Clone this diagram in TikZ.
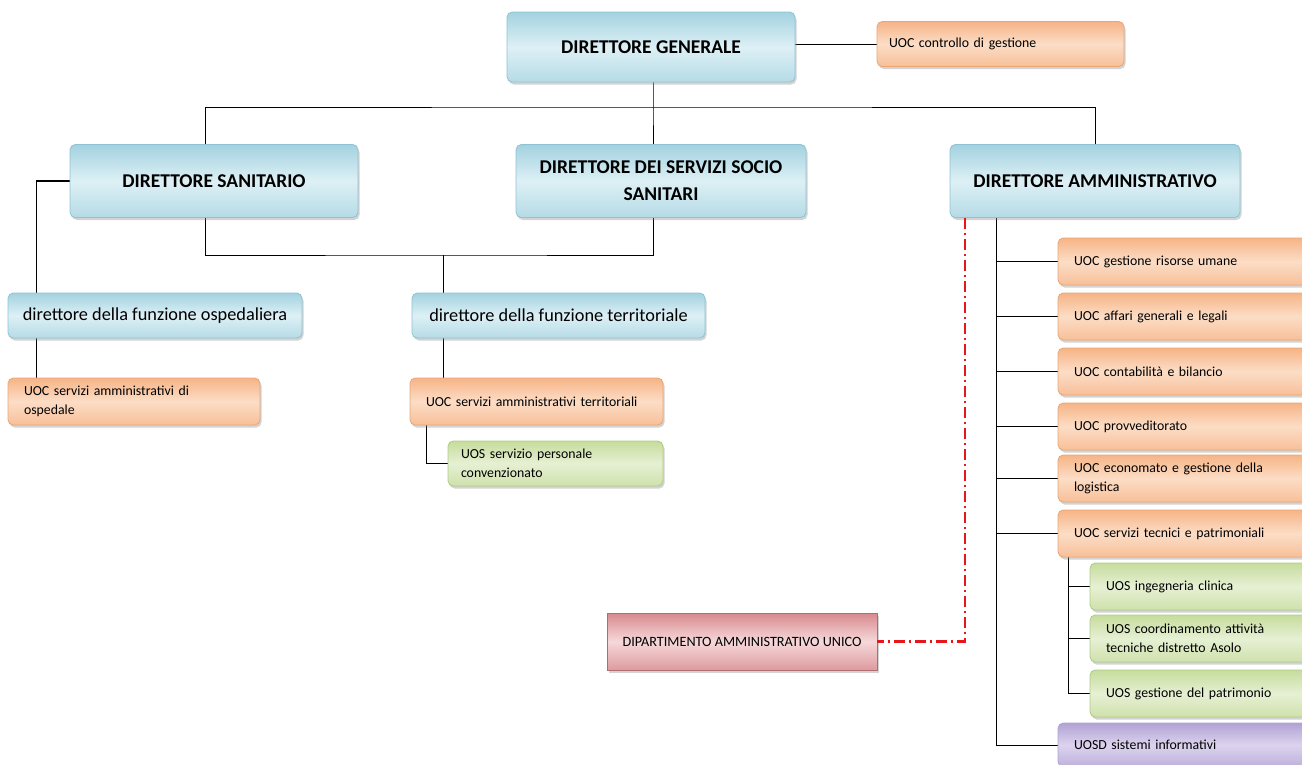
\documentclass[tikz,border=0pt]{standalone}
\usepackage{fontspec}
\setmainfont{Carlito}
\usetikzlibrary{positioning}
\usetikzlibrary{calc}
\usetikzlibrary{shadows}
\usetikzlibrary{backgrounds}
\definecolor{bluetop}{HTML}{A3D2E0}
\definecolor{bluemid}{HTML}{DDF0F5}
\definecolor{blueline}{HTML}{8FC3D3}
\definecolor{orgtop}{HTML}{F6B486}
\definecolor{orgmid}{HTML}{FCDDC6}
\definecolor{orgline}{HTML}{E9A674}
\definecolor{grntop}{HTML}{C6DC9C}
\definecolor{grnmid}{HTML}{E6F0D4}
\definecolor{grnline}{HTML}{AFCB86}
\definecolor{purtop}{HTML}{B1A2D4}
\definecolor{purmid}{HTML}{DCD3EE}
\definecolor{redtop}{HTML}{D7898D}
\definecolor{redmid}{HTML}{F6D8DA}
\definecolor{dashred}{HTML}{E8161B}
\tikzset{every picture/.style={line width=0.8pt}}

\begin{document}
\begin{tikzpicture}[x=1pt,y=-1pt,
  rc/.style={rounded corners=1.1ex},
  shade/.style={drop shadow={shadow xshift=1.5pt,shadow yshift=-2.5pt,opacity=0.35}},
  bluebox/.style={rc, shade, draw=blueline, top color=bluetop, bottom color=bluetop!80, middle color=bluemid},
  orgbox/.style={rc, shade, draw=orgline, top color=orgtop, bottom color=orgtop!85, middle color=orgmid, align=left, font=\fontsize{13.8}{20}\selectfont},
  grnbox/.style={rc, shade, draw=grnline, top color=grntop, bottom color=grntop!85, middle color=grnmid, align=left, font=\fontsize{13.8}{20}\selectfont},
  purbox/.style={rc, shade, draw=purtop, top color=purtop, bottom color=purtop!85, middle color=purmid, align=left, font=\fontsize{13.8}{20}\selectfont},
  redbox/.style={shade, draw=redtop!80!black, top color=redtop, bottom color=redtop!85, middle color=redmid, font=\fontsize{14.2}{15}\selectfont},
  big/.style={font=\bfseries\fontsize{19.5}{27}\selectfont, align=center},
  mid/.style={font=\fontsize{18.3}{18}\selectfont},
  two/.style={font=\fontsize{13.8}{19}\selectfont}]
\clip (0,0) rectangle (1302,764);
% direzione
\node (dg) at (651,47) [minimum width=288pt, minimum height=70pt, bluebox, big] {DIRETTORE GENERALE};
\node (cg) at (1000.5,44) [minimum width=247pt, minimum height=45pt, text width=223pt, inner xsep=12pt, orgbox] {UOC controllo di gestione};
\node (ds) at (214,181) [minimum width=288pt, minimum height=73pt, bluebox, big] {DIRETTORE SANITARIO};
\node (dsss) at (661,181) [minimum width=290pt, minimum height=73pt, bluebox, big] {DIRETTORE DEI SERVIZI SOCIO\\SANITARI};
\node (da) at (1095,181) [minimum width=290pt, minimum height=73pt, bluebox, big] {DIRETTORE AMMINISTRATIVO};
% funzioni
\node (dfo) at (155,315.5) [minimum width=294pt, minimum height=45pt, bluebox, mid] {direttore della funzione ospedaliera};
\node (dft) at (558.5,315.5) [minimum width=293pt, minimum height=45pt, bluebox, mid] {direttore della funzione territoriale};
\node (uocosp) at (134,401.5) [minimum width=252pt, minimum height=47pt, text width=220pt, inner xsep=16pt, orgbox, two] {UOC servizi amministrativi di\\ospedale};
\node (uocterr) at (536.5,401.5) [minimum width=253pt, minimum height=47pt, text width=221pt, inner xsep=16pt, orgbox] {UOC servizi amministrativi territoriali};
\node (uospc) at (555.5,463.5) [minimum width=215pt, minimum height=45pt, text width=189pt, inner xsep=13pt, grnbox, two] {UOS servizio personale\\convenzionato};
% area amministrativa
\node (gru) at (1188,261.5) [minimum width=260pt, minimum height=47pt, text width=228pt, inner xsep=16pt, orgbox] {UOC gestione risorse umane};
\node (agl) at (1188,316.5) [minimum width=260pt, minimum height=47pt, text width=228pt, inner xsep=16pt, orgbox] {UOC affari generali e legali};
\node (cb) at (1188,371.5) [minimum width=260pt, minimum height=47pt, text width=228pt, inner xsep=16pt, orgbox] {UOC contabilità e bilancio};
\node (prov) at (1188,426.5) [minimum width=260pt, minimum height=47pt, text width=228pt, inner xsep=16pt, orgbox] {UOC provveditorato};
\node (econ) at (1188,478.5) [minimum width=260pt, minimum height=47pt, text width=228pt, inner xsep=16pt, orgbox, two] {UOC economato e gestione della\\logistica};
\node (stp) at (1188,533.5) [minimum width=260pt, minimum height=47pt, text width=228pt, inner xsep=16pt, orgbox] {UOC servizi tecnici e patrimoniali};
\node (ic) at (1205,586.5) [minimum width=230pt, minimum height=47pt, text width=198pt, inner xsep=16pt, grnbox] {UOS ingegneria clinica};
\node (cad) at (1205,638.5) [minimum width=230pt, minimum height=47pt, text width=198pt, inner xsep=16pt, grnbox, two] {UOS coordinamento attività\\tecniche distretto Asolo};
\node (gp) at (1205,693.5) [minimum width=230pt, minimum height=47pt, text width=198pt, inner xsep=16pt, grnbox] {UOS gestione del patrimonio};
\node (si) at (1188,745) [minimum width=260pt, minimum height=44pt, text width=228pt, inner xsep=16pt, purbox] {UOSD sistemi informativi};
\node (dau) at (742,641.5) [minimum width=270pt, minimum height=57pt, redbox] {DIPARTIMENTO AMMINISTRATIVO UNICO};
% collegamenti
\coordinate (bus) at (653,107);
\coordinate (lowbus) at (443,255);
\begin{scope}[on background layer, draw=black!80]
\draw (dg.east |- cg.west) -- (cg.west);
\draw ($(ds.north)+(-9,0)$) |- (bus) -| (da.north);
\draw (bus |- dg.south) -- (bus) -- (bus |- dsss.north);
\draw ($(ds.south)+(-9,0)$) |- (lowbus) -| (bus |- dsss.south);
\draw (lowbus) -- (lowbus |- dft.north);
\draw[black, line width=1.1pt] (ds.west) -| ($(uocosp.north west)+(29,0)$);
\draw (lowbus |- dft.south) -- (lowbus |- uocterr.north);
\draw ($(uocterr.south west)+(17,0)$) |- (uospc.west);
\draw ($(da.south west)+(47,0)$) coordinate (dacol) |- (si.west);
\foreach \n in {gru,agl,cb,prov,econ,stp}
  \draw (\n.west) -- (\n.west -| dacol);
\draw ($(stp.south west)+(11,0)$) coordinate (stpcol) |- (gp.west);
\foreach \n in {ic,cad}
  \draw (\n.west) -- (\n.west -| stpcol);
\end{scope}
\draw[dashred, line width=2.2pt, dash pattern=on 11pt off 4pt on 2pt off 4pt] ($(da.south west)+(15,0)$) |- (dau.east);
\end{tikzpicture}
\end{document}
